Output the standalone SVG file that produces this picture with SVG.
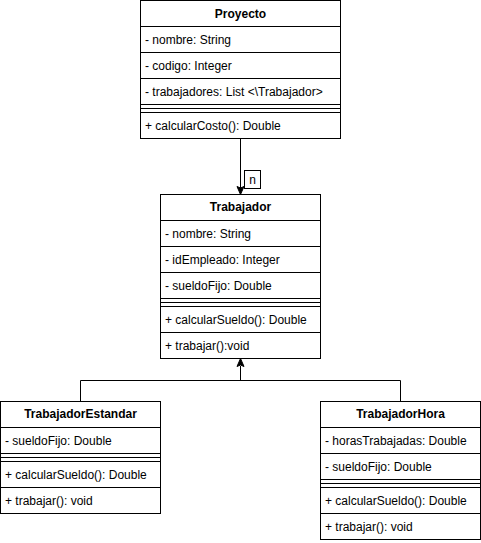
<svg xmlns="http://www.w3.org/2000/svg" width="481" height="543" viewBox="0 0 481 543">
<style>
.box{fill:#fff;stroke:#000;stroke-width:1}
.ln{stroke:#000;stroke-width:1;fill:none}
.t{font-family:"Liberation Sans",Arial,sans-serif;font-size:12px;fill:#000}
.h{font-weight:bold;text-anchor:middle}
.ah{fill:#000;stroke:#000;stroke-width:1}
</style>
<rect width="481" height="543" fill="#fff"/>
<g id="connectors">
  <path class="ln" d="M240.5 138.5 V188"/>
  <path class="ah" d="M240.5 194.5 L237 186.5 L240.5 188 L244 186.5 Z"/>
  <g id="label-n">
    <rect class="box" x="244.5" y="170.5" width="16" height="18"/>
    <text class="t" x="252.5" y="184" text-anchor="middle">n</text>
  </g>
  <path class="ln" d="M240.5 366 V380.5 M80.5 401.5 V380.5 H400.5 V401.5"/>
  <path class="ah" d="M240.5 358.5 L237 366.5 L240.5 365 L244 366.5 Z"/>
</g>
<g id="Proyecto">
  <rect class="box" x="140.5" y="0.5" width="200" height="138"/>
  <path class="ln" d="M140.5 26.5 H340.5 M140.5 52.5 H340.5 M140.5 78.5 H340.5 M140.5 104.5 H340.5 M140.5 108.5 H340.5 M140.5 112.5 H340.5"/>
  <text class="t h" x="240.5" y="18">Proyecto</text>
  <text class="t" x="145" y="44">- nombre: String</text>
  <text class="t" x="145" y="70">- codigo: Integer</text>
  <text class="t" x="145" y="96">- trabajadores: List &lt;\Trabajador&gt;</text>
  <text class="t" x="145" y="130">+ calcularCosto(): Double</text>
</g>
<g id="Trabajador">
  <rect class="box" x="160.5" y="194.5" width="160" height="164"/>
  <path class="ln" d="M160.5 220.5 H320.5 M160.5 246.5 H320.5 M160.5 272.5 H320.5 M160.5 298.5 H320.5 M160.5 302.5 H320.5 M160.5 306.5 H320.5 M160.5 332.5 H320.5"/>
  <text class="t h" x="240.5" y="211">Trabajador</text>
  <text class="t" x="165" y="238">- nombre: String</text>
  <text class="t" x="165" y="264">- idEmpleado: Integer</text>
  <text class="t" x="165" y="290">- sueldoFijo: Double</text>
  <text class="t" x="165" y="324">+ calcularSueldo(): Double</text>
  <text class="t" x="165" y="350">+ trabajar():void</text>
</g>
<g id="TrabajadorEstandar">
  <rect class="box" x="0.5" y="401.5" width="160" height="112"/>
  <path class="ln" d="M0.5 427.5 H160.5 M0.5 453.5 H160.5 M0.5 457.5 H160.5 M0.5 461.5 H160.5 M0.5 487.5 H160.5"/>
  <text class="t h" x="80.5" y="418">TrabajadorEstandar</text>
  <text class="t" x="5" y="445">- sueldoFijo: Double</text>
  <text class="t" x="5" y="479">+ calcularSueldo(): Double</text>
  <text class="t" x="5" y="505">+ trabajar(): void</text>
</g>
<g id="TrabajadorHora">
  <rect class="box" x="320.5" y="401.5" width="160" height="138"/>
  <path class="ln" d="M320.5 427.5 H480.5 M320.5 453.5 H480.5 M320.5 479.5 H480.5 M320.5 483.5 H480.5 M320.5 487.5 H480.5 M320.5 513.5 H480.5"/>
  <text class="t h" x="400.5" y="418">TrabajadorHora</text>
  <text class="t" x="325" y="445">- horasTrabajadas: Double</text>
  <text class="t" x="325" y="471">- sueldoFijo: Double</text>
  <text class="t" x="325" y="505">+ calcularSueldo(): Double</text>
  <text class="t" x="325" y="531">+ trabajar(): void</text>
</g>
</svg>
